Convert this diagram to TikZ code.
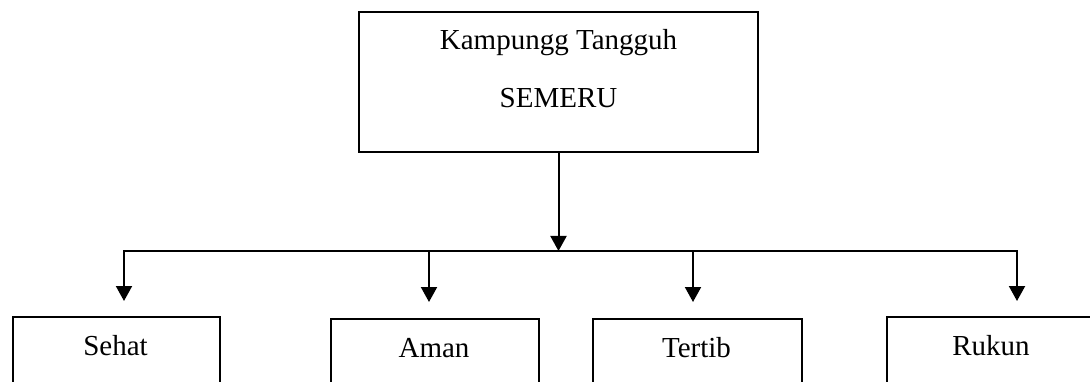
\documentclass[tikz,border=0pt]{standalone}
\usepackage{fontspec}
\setmainfont{Liberation Serif}
\usetikzlibrary{arrows.meta}
\begin{document}
\begin{tikzpicture}[x=1pt,y=-1pt,
  box/.style={draw=black, line width=1.7pt, fill=white, inner sep=0pt},
  lbl/.style={anchor=base, inner sep=0pt, font=\fontsize{29}{34}\selectfont},
  conn/.style={line width=2pt},
  arr/.style={conn, -{Triangle[length=15pt,width=16pt]}}]
\useasboundingbox (0,0) rectangle (1090,382);
\clip (0,0) rectangle (1090,382);
\fill[white] (0,0) rectangle (1090,382);
% top box
\node[box, minimum width=399pt, minimum height=140pt] (top) at (558.5,82) {};
\node[lbl] (t1) at (558.5,50) {Kampungg Tangguh};
\node[lbl] (t2) at (558.5,108) {SEMERU};
% bottom boxes (extend below the frame)
\node[box, anchor=north west, minimum width=207pt, minimum height=120pt] (sehat) at (12,316) {};
\node[box, anchor=north west, minimum width=208pt, minimum height=120pt] (aman) at (330,318) {};
\node[box, anchor=north west, minimum width=209pt, minimum height=120pt] (tertib) at (592,318) {};
\node[box, anchor=north west, minimum width=210pt, minimum height=120pt] (rukun) at (886,316) {};
\node[lbl] (ls) at (115.5,355) {Sehat};
\node[lbl] (la) at (434,357) {Aman};
\node[lbl] (lt) at (696.5,357) {Tertib};
\node[lbl] (lr) at (991,355) {Rukun};
% connectors
\coordinate (hub) at (558.5,251);
\coordinate (h1) at (124,251);
\coordinate (h2) at (429,251);
\coordinate (h3) at (693,251);
\coordinate (h4) at (1017,251);
\coordinate (a1) at (124,301);
\coordinate (a2) at (429,302);
\coordinate (a3) at (693,302);
\coordinate (a4) at (1017,301);
\draw[arr] (top.south) -- (hub);
\draw[conn, line cap=rect] (h1) -- (h4);
\draw[arr] (h1) -- (a1);
\draw[arr] (h2) -- (a2);
\draw[arr] (h3) -- (a3);
\draw[arr] (h4) -- (a4);
\end{tikzpicture}
\end{document}
